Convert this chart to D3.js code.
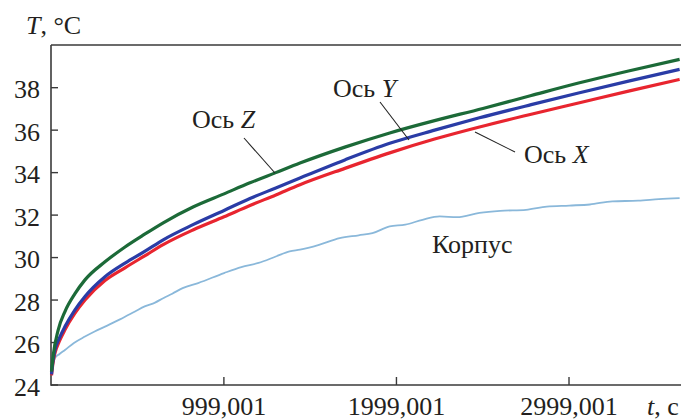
<!DOCTYPE html>
<html><head><meta charset="utf-8">
<script src="https://cdn.jsdelivr.net/npm/d3@7"></script>
</head><body style="margin:0">
<svg id="c" width="681" height="419" style="display:block"></svg>
<script>
const yTicks = [24, 26, 28, 30, 32, 34, 36, 38];
const xTicks = [999.001, 1999.001, 2999.001];
const xTickLabels = ["999,001", "1999,001", "2999,001"];

const tZ = [0, 10, 39, 78, 136, 194, 310, 426, 540, 650, 820, 1000, 1150, 1300, 1440, 1700, 1960, 2220, 2500, 2780, 3060, 3350, 3640];
const valZ = [24.63, 25.4, 26.6, 27.46, 28.3, 28.95, 29.8, 30.5, 31.1, 31.65, 32.38, 33.0, 33.52, 34.0, 34.45, 35.2, 35.87, 36.45, 37.02, 37.63, 38.23, 38.8, 39.33];

const tY = [0, 8, 20, 45, 78, 136, 194, 310, 426, 540, 650, 820, 1000, 1150, 1300, 1440, 1700, 1960, 2220, 2480, 2780, 3060, 3350, 3640];
const valY = [24.5, 25.1, 25.65, 26.2, 26.75, 27.54, 28.17, 29.1, 29.74, 30.29, 30.85, 31.55, 32.22, 32.78, 33.28, 33.75, 34.6, 35.38, 36.0, 36.58, 37.2, 37.76, 38.32, 38.86];

const tX = [0, 8, 20, 45, 78, 136, 194, 310, 426, 540, 650, 820, 1000, 1150, 1300, 1440, 1700, 1960, 2220, 2480, 2780, 3060, 3350, 3640];
const valX = [24.45, 25.0, 25.5, 26.05, 26.6, 27.38, 28.0, 28.92, 29.52, 30.08, 30.62, 31.3, 31.92, 32.45, 32.95, 33.43, 34.2, 34.93, 35.58, 36.15, 36.75, 37.29, 37.85, 38.39];

const tK = [0, 10, 20, 45, 78, 130, 194, 250, 310, 400, 484, 540, 600, 650, 700, 760, 850, 1000, 1100, 1200, 1300, 1380, 1440, 1550, 1670, 1780, 1860, 1960, 2050, 2150, 2250, 2350, 2480, 2600, 2750, 2870, 3000, 3120, 3250, 3400, 3520, 3640];
const valK = [24.5, 25.0, 25.27, 25.45, 25.65, 25.98, 26.28, 26.52, 26.75, 27.1, 27.46, 27.7, 27.88, 28.1, 28.3, 28.56, 28.8, 29.27, 29.55, 29.75, 30.05, 30.29, 30.37, 30.6, 30.92, 31.05, 31.15, 31.47, 31.55, 31.78, 31.94, 31.9, 32.1, 32.2, 32.25, 32.4, 32.45, 32.5, 32.65, 32.68, 32.75, 32.8];

const svg = d3.select("#c");
const x = d3.scaleLinear().domain([0, 3648]).range([51.5, 681]);
const y = d3.scaleLinear().domain([24, 40]).range([385, 45.2]);

const axisCol = "#3a3a3a";
const txtCol = "#231f20";
svg.append("line").attr("x1", 51).attr("x2", 681).attr("y1", 385).attr("y2", 385).attr("stroke", axisCol).attr("stroke-width", 1.6);
svg.append("line").attr("x1", 51).attr("x2", 681).attr("y1", 45).attr("y2", 45).attr("stroke", axisCol).attr("stroke-width", 1.6);
svg.append("line").attr("x1", 51).attr("x2", 51).attr("y1", 45).attr("y2", 385.8).attr("stroke", axisCol).attr("stroke-width", 1.6);

svg.selectAll(".yt").data(yTicks).join("line")
  .attr("x1", 51).attr("x2", 58).attr("y1", d => y(d)).attr("y2", d => y(d))
  .attr("stroke", axisCol).attr("stroke-width", 1.4);
svg.selectAll(".yl").data(yTicks).join("text")
  .attr("x", 40).attr("y", d => y(d) + 10.5).attr("text-anchor", "end")
  .style("font-family", d => `'Liberation Serif'`).attr("fill", txtCol)
  .attr("font-size", 26).text(d => d);

svg.selectAll(".xt").data(xTicks).join("line")
  .attr("x1", d => x(d)).attr("x2", d => x(d)).attr("y1", 385).attr("y2", 377)
  .attr("stroke", axisCol).attr("stroke-width", 1.4);
svg.selectAll(".xl").data(xTicks).join("text")
  .attr("x", d => x(d)).attr("y", 414.5).attr("text-anchor", "middle")
  .style("font-family", d => `'Liberation Serif'`).attr("fill", txtCol)
  .attr("font-size", 26).text((d, i) => xTickLabels[i]);

function label(xp, yp, main, ital, italFirst) {
  const t = svg.append("text").attr("x", xp).attr("y", yp).attr("font-size", 26)
    .style("font-family", `'Liberation Serif'`).attr("fill", txtCol);
  if (italFirst) {
    t.append("tspan").attr("font-style", "italic").text(ital);
    t.append("tspan").text(main);
  } else {
    t.append("tspan").text(main);
    if (ital) t.append("tspan").attr("font-style", "italic").text(ital);
  }
}
label(26, 34, ", °C", "T", true);
label(647, 414.5, ", с", "t", true);

const line = d3.line().x(d => x(d[0])).y(d => y(d[1])).curve(d3.curveMonotoneX);
const series = [
  {t: tK, v: valK, c: "#8ab8da", w: 1.8},
  {t: tX, v: valX, c: "#e8252f", w: 3.2},
  {t: tY, v: valY, c: "#2a3ca6", w: 3.2},
  {t: tZ, v: valZ, c: "#1c6a38", w: 3.2}
];
series.forEach(s => {
  svg.append("path").datum(s.t.map((t, i) => [t, s.v[i]]))
    .attr("d", line).attr("fill", "none").attr("stroke", s.c)
    .attr("stroke-width", s.w).attr("stroke-linejoin", "round");
});

label(192, 128, "Ось ", "Z");
label(333, 97, "Ось ", "Y");
label(524, 163, "Ось ", "X");
label(432, 253, "Корпус", null);

const pointers = [
  [244, 138, 275, 173],
  [380, 102, 409, 140],
  [475, 132, 515, 152]
];
svg.selectAll(".ptr").data(pointers).join("line")
  .attr("x1", d => d[0]).attr("y1", d => d[1]).attr("x2", d => d[2]).attr("y2", d => d[3])
  .attr("stroke", "#222").attr("stroke-width", 1.1);
</script>
</body></html>
